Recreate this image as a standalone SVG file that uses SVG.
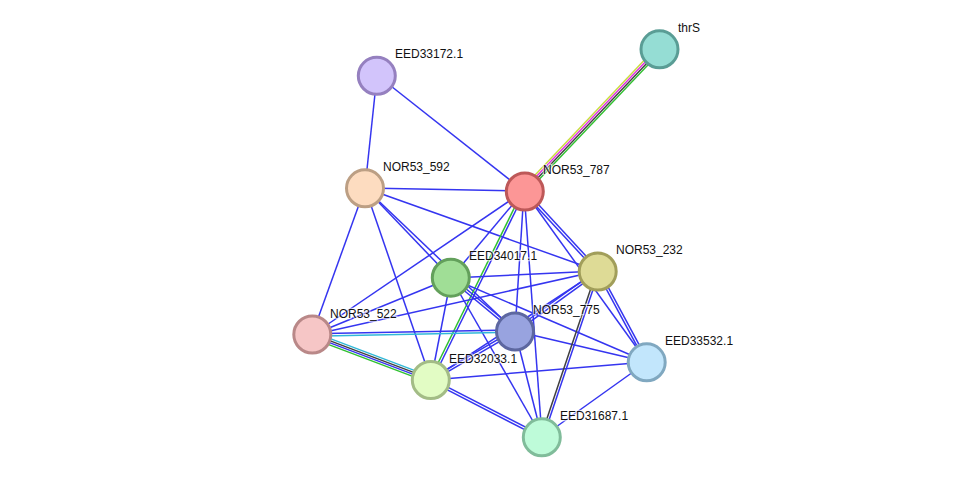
<svg xmlns="http://www.w3.org/2000/svg" width="976" height="483" viewBox="0 0 976 483">
<style>
.e{stroke:#3535f0;stroke-width:1.5;fill:none}
.n circle{stroke-width:3}
.l{font-family:"Liberation Sans",Arial,sans-serif;font-size:12px;fill:#111;stroke:#fff;stroke-width:2.5;stroke-opacity:0.6;paint-order:stroke}
</style>
<rect width="976" height="483" fill="#fff"/>
<g id="edges">
<line x1="521.8" y1="188.9" x2="656.8" y2="46.9" stroke="#c8dc3c" stroke-width="1.4"/>
<line x1="523.3" y1="190.3" x2="658.3" y2="48.3" stroke="#e030e0" stroke-width="1.4"/>
<line x1="524.7" y1="191.7" x2="659.7" y2="49.7" stroke="#404040" stroke-width="1.4"/>
<line x1="526.2" y1="193.1" x2="661.2" y2="51.1" stroke="#30c030" stroke-width="1.4"/>
<line class="e" x1="377" y1="75" x2="365" y2="188"/>
<line class="e" x1="377" y1="75" x2="524" y2="191"/>
<line class="e" x1="365" y1="188" x2="524" y2="191"/>
<line class="e" x1="365" y1="188" x2="312" y2="335"/>
<line class="e" x1="365" y1="188" x2="431" y2="380"/>
<line class="e" x1="365" y1="188" x2="451" y2="278"/>
<line class="e" x1="365" y1="188" x2="515" y2="331"/>
<line class="e" x1="365" y1="188" x2="598" y2="271"/>
<line class="e" x1="524" y1="191" x2="451" y2="278"/>
<line class="e" x1="524" y1="191" x2="312" y2="335"/>
<line x1="522.9" y1="190.5" x2="429.9" y2="379.5" stroke="#30c030" stroke-width="1.5"/>
<line class="e" x1="525.1" y1="191.5" x2="432.1" y2="380.5"/>
<line class="e" x1="524" y1="191" x2="515" y2="331"/>
<line class="e" x1="524" y1="191" x2="542" y2="437"/>
<line class="e" x1="523.1" y1="191.9" x2="597.1" y2="271.9"/>
<line class="e" x1="525" y1="190.1" x2="599" y2="270.1"/>
<line class="e" x1="524" y1="191" x2="647" y2="362"/>
<line class="e" x1="451" y1="278" x2="598" y2="271"/>
<line class="e" x1="450.2" y1="279" x2="514.2" y2="332"/>
<line class="e" x1="451.8" y1="277" x2="515.8" y2="330"/>
<line class="e" x1="451" y1="278" x2="431" y2="380"/>
<line class="e" x1="451" y1="278" x2="312" y2="335"/>
<line class="e" x1="451" y1="278" x2="542" y2="437"/>
<line class="e" x1="451" y1="278" x2="647" y2="362"/>
<line class="e" x1="312" y1="333.8" x2="515" y2="329.8"/>
<line x1="312" y1="336.2" x2="515" y2="332.2" stroke="#30b8d8" stroke-width="1.5"/>
<line x1="313.1" y1="332.2" x2="432.1" y2="377.2" stroke="#30b8d8" stroke-width="1.4"/>
<line x1="312.4" y1="334.1" x2="431.4" y2="379.1" stroke="#404040" stroke-width="1.4"/>
<line x1="311.6" y1="335.9" x2="430.6" y2="380.9" stroke="#3535f0" stroke-width="1.4"/>
<line x1="310.9" y1="337.8" x2="429.9" y2="382.8" stroke="#30c030" stroke-width="1.4"/>
<line class="e" x1="312" y1="335" x2="598" y2="271"/>
<line class="e" x1="431.7" y1="381.1" x2="515.7" y2="332.1"/>
<line class="e" x1="430.3" y1="378.9" x2="514.3" y2="329.9"/>
<line class="e" x1="431" y1="380" x2="598" y2="271"/>
<line class="e" x1="431" y1="380" x2="647" y2="362"/>
<line class="e" x1="430.4" y1="381.2" x2="541.4" y2="438.2"/>
<line class="e" x1="431.6" y1="378.8" x2="542.6" y2="435.8"/>
<line class="e" x1="515.8" y1="332.1" x2="598.8" y2="272.1"/>
<line class="e" x1="514.2" y1="330" x2="597.2" y2="270"/>
<line class="e" x1="515" y1="331" x2="647" y2="362"/>
<line class="e" x1="515" y1="331" x2="542" y2="437"/>
<line x1="596.9" y1="270.6" x2="540.9" y2="436.6" stroke="#404040" stroke-width="1.5"/>
<line class="e" x1="599.1" y1="271.4" x2="543.1" y2="437.4"/>
<line class="e" x1="596.9" y1="271.6" x2="645.9" y2="362.6"/>
<line class="e" x1="599.1" y1="270.4" x2="648.1" y2="361.4"/>
<line class="e" x1="647" y1="362" x2="542" y2="437"/>
</g>
<g id="thrS" class="n"><circle cx="659.5" cy="49.3" r="18.5" fill="#95ddd4" stroke="#5a9d95"/><text class="l" x="678" y="32">thrS</text></g>
<g id="EED33172.1" class="n"><circle cx="376.8" cy="75.8" r="18.5" fill="#d2c4fb" stroke="#9580bf"/><text class="l" x="395" y="58">EED33172.1</text></g>
<g id="NOR53_592" class="n"><circle cx="365" cy="188.3" r="18.5" fill="#fddcc0" stroke="#bc9f84"/><text class="l" x="383" y="171">NOR53_592</text></g>
<g id="NOR53_787" class="n"><circle cx="524.8" cy="191.5" r="18.5" fill="#fc9696" stroke="#bd5858"/><text class="l" x="543" y="174">NOR53_787</text></g>
<g id="NOR53_232" class="n"><circle cx="597.7" cy="271.5" r="18.5" fill="#dedb96" stroke="#a19e5a"/><text class="l" x="616" y="254">NOR53_232</text></g>
<g id="EED34017.1" class="n"><circle cx="450.8" cy="277.7" r="18.5" fill="#a0de96" stroke="#63a05b"/><text class="l" x="469" y="260">EED34017.1</text></g>
<g id="NOR53_775" class="n"><circle cx="515" cy="331.5" r="18.5" fill="#98a3df" stroke="#5d67a0"/><text class="l" x="533" y="314">NOR53_775</text></g>
<g id="NOR53_522" class="n"><circle cx="312.3" cy="334.5" r="18.5" fill="#f6c6c6" stroke="#b98888"/><text class="l" x="330" y="318">NOR53_522</text></g>
<g id="EED33532.1" class="n"><circle cx="646.7" cy="362.3" r="18.5" fill="#c2e6fc" stroke="#80a8c0"/><text class="l" x="665" y="345">EED33532.1</text></g>
<g id="EED32033.1" class="n"><circle cx="430.8" cy="380" r="18.5" fill="#e2fcc4" stroke="#a3bc86"/><text class="l" x="449" y="363">EED32033.1</text></g>
<g id="EED31687.1" class="n"><circle cx="541.8" cy="437.3" r="18.5" fill="#befbd9" stroke="#80bc9a"/><text class="l" x="560" y="420">EED31687.1</text></g>
</svg>
